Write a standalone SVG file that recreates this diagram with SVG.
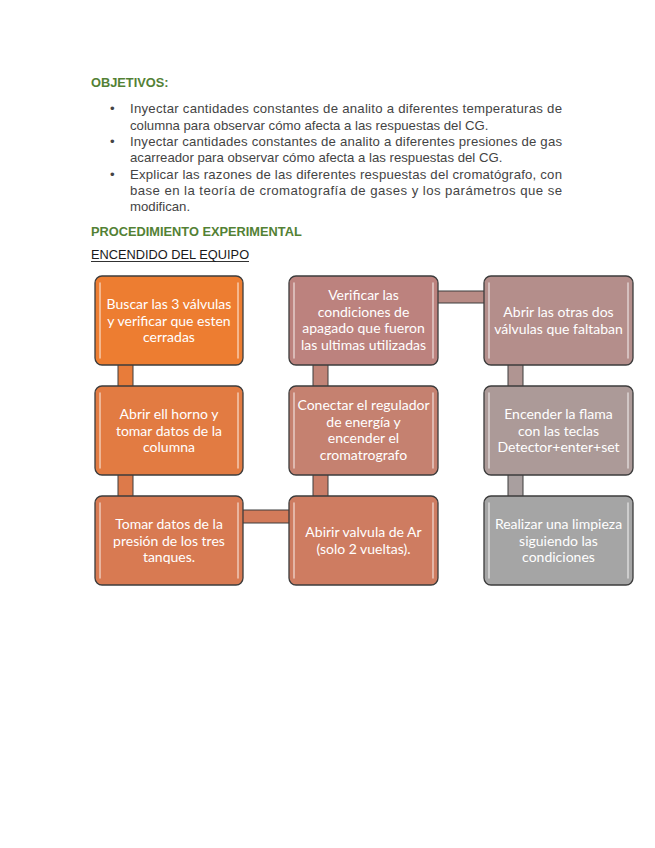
<svg xmlns="http://www.w3.org/2000/svg" width="655" height="848" viewBox="0 0 655 848">
<style>
.h{font-family:"Liberation Sans",Arial,sans-serif;font-weight:bold;font-size:12.8px;fill:#538135}
.b{font-family:"Liberation Sans",Arial,sans-serif;font-size:13.2px;fill:#444444}
.u{font-family:"Liberation Sans",Arial,sans-serif;font-size:12.8px;fill:#1a1a1a}
.box{stroke:#3c3c3c;stroke-width:1.3}
.hl{stroke:#ffffff;stroke-opacity:0.6;stroke-width:1.5;stroke-linecap:round}
.t{font-family:Lato,"Open Sans",sans-serif;font-size:14px;fill:#ffffff;text-anchor:middle}
.cn{stroke:#3c3c3c;stroke-width:1}
</style>
<rect width="655" height="848" fill="#ffffff"/>
<text class="h" x="91" y="87">OBJETIVOS:</text>
<g class="b">
<text x="110" y="113">•</text>
<text x="130" y="113" textLength="432" lengthAdjust="spacing">Inyectar cantidades constantes de analito a diferentes temperaturas de</text>
<text x="130" y="129.5">columna para observar cómo afecta a las respuestas del CG.</text>
<text x="110" y="146">•</text>
<text x="130" y="146" textLength="432" lengthAdjust="spacing">Inyectar cantidades constantes de analito a diferentes presiones de gas</text>
<text x="130" y="162">acarreador para observar cómo afecta a las respuestas del CG.</text>
<text x="110" y="178.5">•</text>
<text x="130" y="178.5" textLength="432" lengthAdjust="spacing">Explicar las razones de las diferentes respuestas del cromatógrafo, con</text>
<text x="130" y="195" textLength="432" lengthAdjust="spacing">base en la teoría de cromatografía de gases y los parámetros que se</text>
<text x="130" y="211">modifican.</text>
</g>
<text class="h" x="91" y="236">PROCEDIMIENTO EXPERIMENTAL</text>
<text class="u" x="91" y="259">ENCENDIDO DEL EQUIPO</text>
<line x1="91" y1="261.5" x2="249" y2="261.5" stroke="#1a1a1a" stroke-width="0.9"/>

<g id="connectors">
<rect class="cn" x="118" y="364" width="15" height="23" fill="#E87C3A"/>
<rect class="cn" x="118" y="474" width="15" height="23" fill="#DD7A4A"/>
<rect class="cn" x="242" y="510" width="48" height="13" fill="#D37B5A"/>
<rect class="cn" x="313" y="474" width="15" height="23" fill="#CA7E68"/>
<rect class="cn" x="313" y="364" width="15" height="23" fill="#C18477"/>
<rect class="cn" x="437" y="291" width="48" height="12" fill="#B88B85"/>
<rect class="cn" x="508" y="364" width="15" height="23" fill="#B09592"/>
<rect class="cn" x="508" y="474" width="15" height="23" fill="#A99F9F"/>
</g>

<g id="n1">
<rect class="box" x="95" y="276" width="148" height="89" rx="7" fill="#ED7D31"/>
<line class="hl" x1="100" y1="283" x2="100" y2="358"/><line class="hl" x1="238" y1="283" x2="238" y2="358"/>
<text class="t" x="169" y="309">Buscar las 3 válvulas</text>
<text class="t" x="169" y="325.5">y verificar que esten</text>
<text class="t" x="169" y="342">cerradas</text>
</g>
<g id="n2">
<rect class="box" x="95" y="386" width="148" height="89" rx="7" fill="#E27B42"/>
<line class="hl" x1="100" y1="393" x2="100" y2="468"/><line class="hl" x1="238" y1="393" x2="238" y2="468"/>
<text class="t" x="169" y="419">Abrir ell horno y</text>
<text class="t" x="169" y="435.5">tomar datos de la</text>
<text class="t" x="169" y="452">columna</text>
</g>
<g id="n3">
<rect class="box" x="95" y="496" width="148" height="89" rx="7" fill="#D87A52"/>
<line class="hl" x1="100" y1="503" x2="100" y2="578"/><line class="hl" x1="238" y1="503" x2="238" y2="578"/>
<text class="t" x="169" y="529">Tomar datos de la</text>
<text class="t" x="169" y="545.5">presión de los tres</text>
<text class="t" x="169" y="562">tanques.</text>
</g>
<g id="n4">
<rect class="box" x="289" y="496" width="149" height="89" rx="7" fill="#CE7C61"/>
<line class="hl" x1="294" y1="503" x2="294" y2="578"/><line class="hl" x1="433" y1="503" x2="433" y2="578"/>
<text class="t" x="363.5" y="537">Abirir valvula de Ar</text>
<text class="t" x="363.5" y="553.5">(solo 2 vueltas).</text>
</g>
<g id="n5">
<rect class="box" x="289" y="386" width="149" height="89" rx="7" fill="#C58170"/>
<line class="hl" x1="294" y1="393" x2="294" y2="468"/><line class="hl" x1="433" y1="393" x2="433" y2="468"/>
<text class="t" x="363.5" y="410">Conectar el regulador</text>
<text class="t" x="363.5" y="426.5">de energía y</text>
<text class="t" x="363.5" y="443">encender el</text>
<text class="t" x="363.5" y="459.5">cromatrografo</text>
</g>
<g id="n6">
<rect class="box" x="289" y="276" width="149" height="89" rx="7" fill="#BC827E"/>
<line class="hl" x1="294" y1="283" x2="294" y2="358"/><line class="hl" x1="433" y1="283" x2="433" y2="358"/>
<text class="t" x="363.5" y="300">Verificar las</text>
<text class="t" x="363.5" y="316.5">condiciones de</text>
<text class="t" x="363.5" y="333">apagado que fueron</text>
<text class="t" x="363.5" y="349.5">las ultimas utilizadas</text>
</g>
<g id="n7">
<rect class="box" x="484" y="276" width="149" height="89" rx="7" fill="#B48E8B"/>
<line class="hl" x1="489" y1="283" x2="489" y2="358"/><line class="hl" x1="628" y1="283" x2="628" y2="358"/>
<text class="t" x="558.5" y="317">Abrir las otras dos</text>
<text class="t" x="558.5" y="333.5">válvulas que faltaban</text>
</g>
<g id="n8">
<rect class="box" x="484" y="386" width="149" height="89" rx="7" fill="#AC9A98"/>
<line class="hl" x1="489" y1="393" x2="489" y2="468"/><line class="hl" x1="628" y1="393" x2="628" y2="468"/>
<text class="t" x="558.5" y="419">Encender la flama</text>
<text class="t" x="558.5" y="435.5">con las teclas</text>
<text class="t" x="558.5" y="452">Detector+enter+set</text>
</g>
<g id="n9">
<rect class="box" x="484" y="496" width="149" height="89" rx="7" fill="#A5A5A5"/>
<line class="hl" x1="489" y1="503" x2="489" y2="578"/><line class="hl" x1="628" y1="503" x2="628" y2="578"/>
<text class="t" x="558.5" y="529">Realizar una limpieza</text>
<text class="t" x="558.5" y="545.5">siguiendo las</text>
<text class="t" x="558.5" y="562">condiciones</text>
</g>
</svg>
